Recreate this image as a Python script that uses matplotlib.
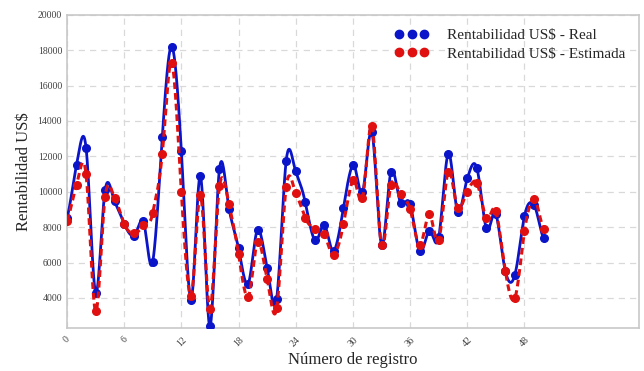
import numpy as np
import matplotlib
matplotlib.use("Agg")
import matplotlib.pyplot as plt
from matplotlib.lines import Line2D

# registro 0..50
registro = list(range(51))

real = [8500, 11500, 12500, 4300, 10100, 9450, 8200, 7500, 8320, 6050,
        13100, 18200, 12300, 3900, 10900, 2400, 11300, 9050, 6800, 4800,
        7850, 5700, 3960, 11750, 11150, 9400, 7250, 8110, 6650, 9060,
        11510, 9980, 13350, 7000, 11130, 9380, 9300, 6660, 7790, 7415,
        12150, 8870, 10760, 11350, 7925, 8740, 5500, 5320, 8620, 9250,
        7360]

estimada = [8350, 10400, 11000, 3250, 9700, 9660, 8200, 7640, 8100, 8800,
            12150, 17300, 10000, 4100, 9800, 3400, 10300, 9280, 6500, 4050,
            7150, 5075, 3430, 10280, 9940, 8530, 7870, 7585, 6450, 8150,
            10640, 9620, 13700, 7000, 10400, 9850, 9020, 6980, 8720, 7260,
            11130, 9100, 10000, 10500, 8490, 8900, 5500, 4000, 7770, 9570,
            7890]

xticks = list(range(0, 49, 6))
yticks = list(range(4000, 20001, 2000))


def smooth(x, y, n=24, k=0.65):
    # cardinal spline through the points (spreadsheet "smoothed line" look)
    x = np.asarray(x, float)
    y = np.asarray(y, float)
    m = np.zeros_like(y)
    m[1:-1] = k * (y[2:] - y[:-2])
    m[0] = k * (y[1] - y[0])
    m[-1] = k * (y[-1] - y[-2])
    t = np.linspace(0, 1, n, endpoint=False)
    h00 = 2 * t ** 3 - 3 * t ** 2 + 1
    h10 = t ** 3 - 2 * t ** 2 + t
    h01 = -2 * t ** 3 + 3 * t ** 2
    h11 = t ** 3 - t ** 2
    xs, ys = [], []
    for i in range(len(x) - 1):
        xs.append(x[i] + (x[i + 1] - x[i]) * t)
        ys.append(h00 * y[i] + h10 * m[i] + h01 * y[i + 1] + h11 * m[i + 1])
    xs.append([x[-1]])
    ys.append([y[-1]])
    return np.concatenate(xs), np.concatenate(ys)


plt.rcParams['font.family'] = ['Liberation Serif', 'DejaVu Serif']

blue = "#0a14c8"
red = "#e01010"

fig = plt.figure(figsize=(6.44, 3.71), dpi=100)
ax = fig.add_axes([0.104, 0.116, 0.888, 0.844])

sx, sy = smooth(registro, real)
ax.plot(sx, sy, color=blue, lw=2.0, zorder=3)
ax.plot(registro, real, 'o', color=blue, ms=5.5, zorder=4)

sx, sy = smooth(registro, estimada)
ax.plot(sx, sy, color=red, lw=2.2, ls=(0, (2.2, 1.3)), zorder=5)
ax.plot(registro, estimada, 'o', color=red, ms=5.5, zorder=5)

ax.set_xlim(0, 60)
ax.set_ylim(2300, 20000)
ax.set_xticks(xticks)
ax.set_yticks(yticks)
ax.tick_params(axis='both', length=0, labelsize=7, colors="#404040")
ax.tick_params(axis='x', pad=5)
plt.setp(ax.get_xticklabels(), rotation=45)

ax.grid(True, color="#d9d9d9", ls=(0, (5, 4)), lw=0.9)
ax.set_axisbelow(True)
for s in ax.spines.values():
    s.set_color("#c8c8c8")
    s.set_linewidth(1.2)

ax.set_ylabel("Rentabilidad US$", fontsize=12, color="#262626")
ax.set_xlabel("Número de registro", fontsize=12, color="#262626", labelpad=3)

handles = [Line2D([], [], ls='none', marker='o', color=blue, ms=6),
           Line2D([], [], ls='none', marker='o', color=red, ms=6)]
ax.legend(handles, ["Rentabilidad US$ - Real", "Rentabilidad US$ - Estimada"],
          loc='upper right', frameon=False, numpoints=3, fontsize=11,
          handlelength=2.2, handletextpad=1.2, labelspacing=0.3,
          bbox_to_anchor=(1.0, 1.0), labelcolor="#262626")

fig.savefig("out.png", dpi=100)
